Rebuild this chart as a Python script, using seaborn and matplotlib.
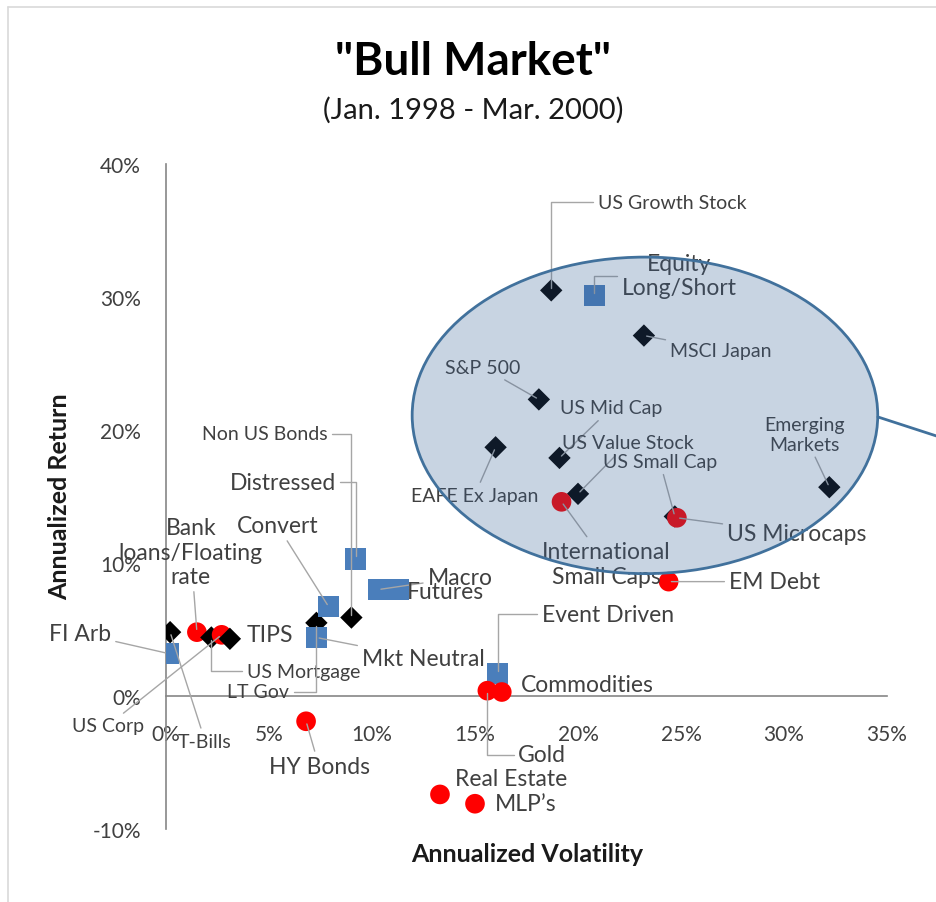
import pandas as pd
import matplotlib
matplotlib.use('Agg')
import matplotlib.pyplot as plt
import seaborn as sns
from matplotlib.patches import Ellipse
from matplotlib.ticker import FuncFormatter

# data (annualized volatility / return, in %)
names = ['T-Bills', 'FI Arb', 'Bank\nloans/Floating\nrate', 'US Mortgage', 'US Corp', 'TIPS',
         'LT Gov', 'Mkt Neutral', 'Convert', 'Non US Bonds', 'Distressed', 'Macro', 'Futures',
         'HY Bonds', 'Event Driven', 'Gold', 'Commodities', 'Real Estate', 'MLP\u2019s',
         'US Growth Stock', 'Equity\nLong/Short', 'MSCI Japan', 'S&P 500', 'US Mid Cap',
         'EAFE Ex Japan', 'US Value Stock', 'US Small Cap', 'US Microcaps',
         'International\nSmall Caps', 'EM Debt', 'Emerging\nMarkets']
volatility = [0.2, 0.1, 1.5, 2.2, 2.7, 3.1,
              7.3, 7.3, 7.9, 9.0, 9.2, 10.3, 11.3,
              6.8, 16.1, 15.6, 16.3, 13.3, 15.0,
              18.7, 20.8, 23.2, 18.1, 19.1,
              16.0, 20.0, 24.7, 24.8,
              19.2, 24.4, 32.2]
returns = [4.8, 3.2, 4.8, 4.4, 4.6, 4.3,
           5.5, 4.4, 6.7, 5.9, 10.3, 8.0, 8.0,
           -1.9, 1.7, 0.4, 0.3, -7.4, -8.1,
           30.5, 30.1, 27.1, 22.3, 17.9,
           18.7, 15.2, 13.5, 13.4,
           14.6, 8.6, 15.7]
group = ['Traditional', 'Hedge Fund', 'Alternative', 'Traditional', 'Alternative', 'Traditional',
         'Traditional', 'Hedge Fund', 'Hedge Fund', 'Traditional', 'Hedge Fund', 'Hedge Fund', 'Hedge Fund',
         'Alternative', 'Hedge Fund', 'Alternative', 'Alternative', 'Alternative', 'Alternative',
         'Traditional', 'Hedge Fund', 'Traditional', 'Traditional', 'Traditional',
         'Traditional', 'Traditional', 'Traditional', 'Alternative',
         'Alternative', 'Alternative', 'Traditional']

df = pd.DataFrame({'name': names, 'vol': volatility, 'ret': returns, 'group': group})

# label placement: offset in pixels from the point, font size, leader line (None / 'line' / 'elbow')
S, L = 14, 16.5
label_pos = {
    'T-Bills': (35, -109, S, 'line'), 'FI Arb': (-88, 20, L, 'line'),
    'Bank\nloans/Floating\nrate': (-6, 80, L, 'line'), 'US Mortgage': (92, -34, S, 'elbow'),
    'US Corp': (-114, -91, S, 'line'), 'TIPS': (40, 4, L, None),
    'LT Gov': (-58, -69, S, 'elbow'), 'Mkt Neutral': (107, -21, L, 'line'),
    'Convert': (-51, 81, L, 'line'), 'Non US Bonds': (-87, 184, S, 'elbow'),
    'Distressed': (-73, 77, L, 'elbow'), 'Macro': (82, 12, L, 'line'), 'Futures': (47, -2, L, None),
    'HY Bonds': (13, -45, L, 'line'), 'Event Driven': (110, 59, L, 'elbow'), 'Gold': (55, -64, L, 'elbow'),
    'Commodities': (86, 8, L, None), 'Real Estate': (71, 16, L, None), 'MLP\u2019s': (51, 0, L, None),
    'US Growth Stock': (121, 88, S, 'elbow'), 'Equity\nLong/Short': (85, 20, L, 'elbow'),
    'MSCI Japan': (77, -15, S, 'line'), 'S&P 500': (-56, 32, S, 'line'), 'US Mid Cap': (52, 50, S, 'line'),
    'EAFE Ex Japan': (-21, -48, S, 'line'), 'US Value Stock': (50, 51, S, 'line'),
    'US Small Cap': (-15, 55, S, 'line'), 'US Microcaps': (120, -16, L, 'line'),
    'International\nSmall Caps': (45, -62, L, 'line'), 'EM Debt': (106, 0, L, 'line'),
    'Emerging\nMarkets': (-25, 53, S, 'line'),
}

sns.set_style('white')
plt.rcParams['font.family'] = ['Lato', 'DejaVu Sans']

fig = plt.figure(figsize=(9.36, 9.03), dpi=100)
ax = fig.add_axes([166 / 936, 73 / 903, 721 / 936, 665 / 903])

sns.scatterplot(data=df, x='vol', y='ret', hue='group', style='group', size='group',
                palette={'Traditional': '#000000', 'Hedge Fund': '#4a7ebb', 'Alternative': '#ff0000'},
                markers={'Traditional': 'D', 'Hedge Fund': 's', 'Alternative': 'o'},
                sizes={'Traditional': 130, 'Hedge Fund': 230, 'Alternative': 200},
                linewidth=0, legend=False, ax=ax, zorder=3)

for n, x, y in zip(names, volatility, returns):
    dx, dy, fs, lead = label_pos[n]
    ap = None
    if lead == 'line':
        ap = dict(arrowstyle='-', color='#a6a6a6', lw=1, shrinkA=1, shrinkB=2)
    elif lead == 'elbow':
        ap = dict(arrowstyle='-', color='#a6a6a6', lw=1, shrinkA=1, shrinkB=2,
                  connectionstyle='angle,angleA=0,angleB=90,rad=0')
    ax.annotate(n, (x, y), xytext=(dx, dy), textcoords='offset pixels', ha='center', va='center',
                fontsize=fs, color='#404040', arrowprops=ap, zorder=4, linespacing=1.2)

# highlighted equity cluster
ax.add_patch(Ellipse((23.25, 21.1), 22.6, 23.8, facecolor='#376094', alpha=0.27,
                     edgecolor='none', zorder=5, clip_on=False))
ax.add_patch(Ellipse((23.25, 21.1), 22.6, 23.8, facecolor='none', edgecolor='#41719c',
                     lw=2, zorder=6, clip_on=False))
ax.plot([34.56, 37.6], [20.98, 19.45], color='#41719c', lw=2, clip_on=False, zorder=6)

ax.set_xlim(0, 35)
ax.set_ylim(-10, 40)
ax.set_xticks(range(0, 36, 5))
ax.set_yticks(range(-10, 41, 10))
pct = FuncFormatter(lambda v, p: f'{v:.0f}%')
ax.xaxis.set_major_formatter(pct)
ax.yaxis.set_major_formatter(pct)
ax.spines['bottom'].set_position(('data', 0))
for s in ['top', 'right']:
    ax.spines[s].set_visible(False)
for s in ['left', 'bottom']:
    ax.spines[s].set_color('#868686')
    ax.spines[s].set_linewidth(1.2)
ax.tick_params(axis='x', direction='out', length=6, width=1.2, color='#868686', pad=14,
               labelsize=15, labelcolor='#404040')
ax.tick_params(axis='y', direction='out', length=5, width=1.2, color='#868686', pad=13,
               labelsize=15, labelcolor='#404040')
ax.set_xlabel('')
ax.set_ylabel('')
ax.patch.set_alpha(0)

fig.text(527 / 936, 1 - 855 / 903, 'Annualized Volatility', ha='center', va='center',
         fontsize=18, fontweight='bold', color='#1a1a1a')
fig.text(60 / 936, 1 - 497 / 903, 'Annualized Return', ha='center', va='center', rotation=90,
         fontsize=18, fontweight='bold', color='#1a1a1a')
fig.text(473 / 936, 1 - 62 / 903, '"Bull Market"', ha='center', va='center',
         fontsize=33, fontweight='bold', color='#000000')
fig.text(473 / 936, 1 - 110 / 903, '(Jan. 1998 - Mar. 2000)', ha='center', va='center',
         fontsize=21, color='#1a1a1a')

# chart frame
fig.add_artist(plt.Line2D([8 / 936, 8 / 936], [0, 1 - 8 / 903], color='#d9d9d9', lw=1.2))
fig.add_artist(plt.Line2D([8 / 936, 1], [1 - 8 / 903, 1 - 8 / 903], color='#d9d9d9', lw=1.2))

fig.savefig('out.png', dpi=100)
